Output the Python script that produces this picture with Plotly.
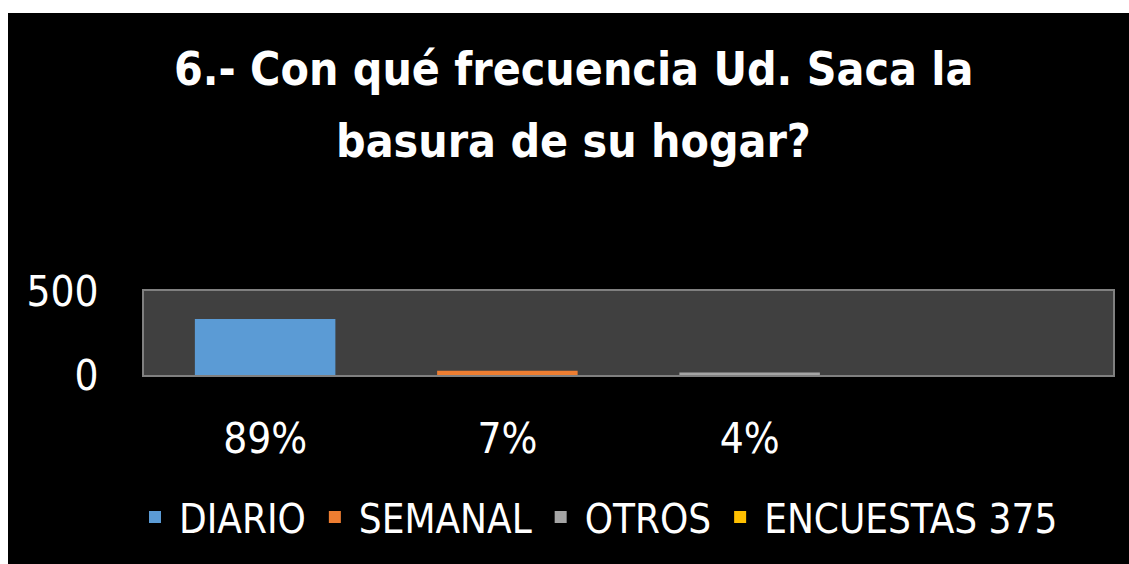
import plotly.graph_objects as go

categories = ["89%", "7%", "4%", " "]
series_names = ["DIARIO", "SEMANAL", "OTROS", "ENCUESTAS 375"]
series_values = [334, 26, 15, None]
series_colors = ["#5b9bd5", "#ed7d31", "#a5a5a5", "#ffc000"]
title_lines = ["6.- Con qué frecuencia Ud. Saca la", "basura de su hogar?"]

W, H = 1129, 564
L, R, T, B = 144, 16, 291, 189
PW, PH = W - L - R, H - T - B


def fx(px):
    return (px - L) / PW


def fy(py):
    return (H - B - py) / PH


FONT = "Liberation Sans Narrow, DejaVu Sans Condensed, Open Sans, sans-serif"

fig = go.Figure()
for i, (name, val, col) in enumerate(zip(series_names, series_values, series_colors)):
    fig.add_trace(go.Bar(
        x=[categories[i]], y=[val], name=name,
        marker=dict(color=col, line=dict(width=0)),
        width=0.58,
    ))

shapes = [
    dict(type="rect", xref="paper", yref="paper", x0=fx(0), x1=fx(8), y0=fy(H), y1=fy(0),
         fillcolor="white", line=dict(width=0), layer="above"),
    dict(type="rect", xref="paper", yref="paper", x0=fx(0), x1=fx(W), y0=fy(13), y1=fy(0),
         fillcolor="white", line=dict(width=0), layer="above"),
]

annotations = [
    dict(text="<b>" + title_lines[0] + "</b>", xref="paper", yref="paper",
         x=fx(573), y=fy(69), xanchor="center", yanchor="middle", showarrow=False,
         font=dict(family=FONT, size=46, color="white")),
    dict(text="<b>" + title_lines[1] + "</b>", xref="paper", yref="paper",
         x=fx(573), y=fy(141), xanchor="center", yanchor="middle", showarrow=False,
         font=dict(family=FONT, size=46, color="white")),
]

fig.update_layout(
    width=W, height=H,
    margin=dict(l=L, r=R, t=T, b=B, pad=0),
    paper_bgcolor="black",
    plot_bgcolor="#404040",
    barmode="overlay",
    showlegend=True,
    legend=dict(orientation="h", x=fx(597), xanchor="center", y=fy(517), yanchor="middle",
                font=dict(family=FONT, size=40, color="white"),
                itemwidth=38, traceorder="normal", bgcolor="rgba(0,0,0,0)"),
    shapes=shapes,
    annotations=annotations,
    font=dict(family=FONT, color="white"),
)
fig.update_xaxes(
    type="category", categoryorder="array", categoryarray=categories,
    showline=True, mirror=True, linecolor="#808080", linewidth=2,
    showgrid=False, ticks="outside", ticklen=26, tickcolor="black",
    tickfont=dict(family=FONT, size=42, color="white"),
)
fig.update_yaxes(
    range=[0, 500], tickvals=[0, 500],
    showline=True, mirror=True, linecolor="#808080", linewidth=2,
    showgrid=False, zeroline=False, ticks="outside", ticklen=35, tickcolor="black",
    tickfont=dict(family=FONT, size=42, color="white"),
)
fig.write_html(
    "out.html",
    config={"displayModeBar": False},
    post_script="document.documentElement.style.overflow='hidden';"
                "document.body.style.overflow='hidden';document.body.style.margin='0';",
)
